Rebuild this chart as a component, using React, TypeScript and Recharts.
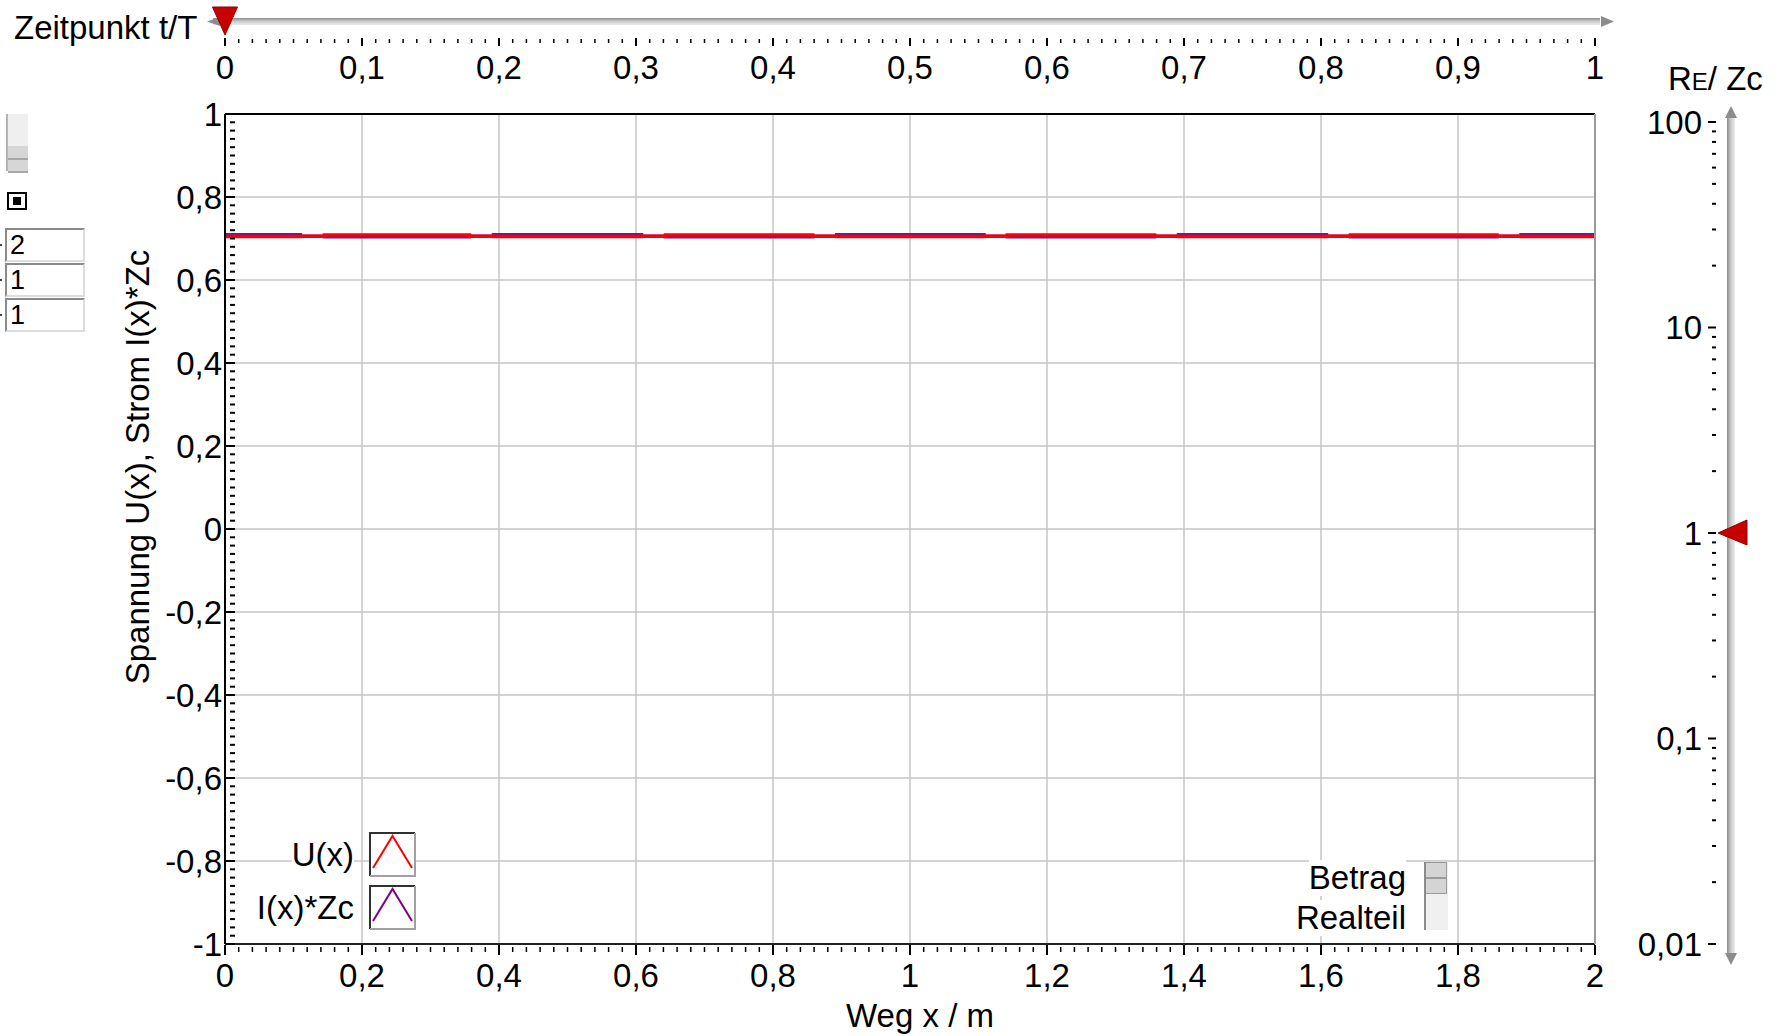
import { LineChart, Line, XAxis, YAxis, CartesianGrid, Legend } from "recharts";

// Weg x / m an den Stufen der Kurven, dazu Betrag von U(x) und I(x)*Zc bei t/T = 0
const wegX = [0, 0.11, 0.145, 0.357, 0.392, 0.608, 0.643, 0.858, 0.893, 1.108, 1.142, 1.357, 1.392, 1.608, 1.643, 1.857, 1.892, 2];
const spannungU = [0.705, 0.7055, 0.7085, 0.7055, 0.705, 0.7055, 0.7085, 0.7055, 0.705, 0.7055, 0.7085, 0.7055, 0.705, 0.7055, 0.7085, 0.7055, 0.705, 0.705];
const stromIZc = [0.709, 0.7055, 0.7045, 0.7055, 0.709, 0.7055, 0.7045, 0.7055, 0.709, 0.7055, 0.7045, 0.7055, 0.709, 0.7055, 0.7045, 0.7055, 0.709, 0.709];

// beschriftete Achsenwerte
const xLabels = [0, 0.2, 0.4, 0.6, 0.8, 1, 1.2, 1.4, 1.6, 1.8, 2];
const yLabels = [-1, -0.8, -0.6, -0.4, -0.2, 0, 0.2, 0.4, 0.6, 0.8, 1];
const tLabels = [0, 0.1, 0.2, 0.3, 0.4, 0.5, 0.6, 0.7, 0.8, 0.9, 1];
const reLabels = [0.01, 0.1, 1, 10, 100];

// Stellung der Schieberegler und Eingabefelder
const zeitpunkt = 0;
const reZc = 1;
const eingaben = ["2", "1", "1"];
const darstellung = ["Betrag", "Realteil"];

const series = [
  { key: "u", name: "U(x)", color: "#ff0000", icon: "#ff0000" },
  { key: "i", name: "I(x)*Zc", color: "#6a1a9a", icon: "#800080" },
];

const FONT = '"Liberation Sans", Arial, Helvetica, sans-serif';

// Zwischenstriche
const steps = (a: number, b: number, n: number) =>
  Array.from({ length: n + 1 }, (_, k) => +(a + ((b - a) * k) / n).toFixed(4));
const xTicks = steps(0, 2, 100);
const yTicks = steps(-1, 1, 100);
const tTicks = steps(0, 1, 100);
const reTicks = [0.01, 0.1, 1, 10]
  .flatMap((d) => [1, 2, 3, 4, 5, 6, 7, 8, 9].map((m) => +(d * m).toPrecision(3)))
  .concat([100]);

const data = wegX.map((x, k) => ({ x, u: spannungU[k], i: stromIZc[k] }));

const isOn = (list: number[], v: number) => list.some((m) => Math.abs(m - v) < 1e-9);
const fmt = (v: number) => String(+v.toPrecision(6)).replace(".", ",");

const txt = { fontFamily: FONT, fontSize: 33, fill: "#000" };

function BottomTick({ x, y, payload }: any) {
  const major = isOn(xLabels, payload.value);
  return (
    <g>
      <line x1={x} x2={x} y1={y + (major ? 1 : 3)} y2={y + (major ? 11 : 8)} stroke="#000" strokeWidth={major ? 2 : 1.5} />
      {major && (
        <text x={x} y={y + 31} textAnchor="middle" dominantBaseline="central" {...txt}>
          {fmt(payload.value)}
        </text>
      )}
    </g>
  );
}

function LeftTick({ x, y, payload }: any) {
  const major = isOn(yLabels, payload.value);
  return (
    <g>
      <line x1={x + (major ? 1 : 5)} x2={x + 10} y1={y} y2={y} stroke="#000" strokeWidth={2} />
      {major && (
        <text x={x - 3} y={y} textAnchor="end" dominantBaseline="central" {...txt}>
          {fmt(payload.value)}
        </text>
      )}
    </g>
  );
}

function TopTick({ x, y, payload }: any) {
  const major = isOn(tLabels, payload.value);
  return (
    <g>
      <line x1={x} x2={x} y1={y - (major ? 76 : 75)} y2={y - (major ? 68 : 71)} stroke="#000" strokeWidth={major ? 2 : 1.5} />
      {major && (
        <text x={x} y={y - 47} textAnchor="middle" dominantBaseline="central" {...txt}>
          {fmt(payload.value)}
        </text>
      )}
      {Math.abs(payload.value - zeitpunkt) < 1e-9 && (
        <polygon
          points={`${x - 12.5},${y - 107} ${x + 12.5},${y - 107} ${x},${y - 79}`}
          fill="#c80000"
          stroke="#900000"
          strokeWidth={1}
        />
      )}
    </g>
  );
}

function RightTick({ x, y, payload }: any) {
  const major = isOn(reLabels, payload.value);
  return (
    <g>
      <line x1={x + (major ? 113 : 117)} x2={x + 121} y1={y} y2={y} stroke="#000" strokeWidth={2} />
      {major && (
        <text x={x + 107} y={y} textAnchor="end" dominantBaseline="central" {...txt}>
          {fmt(payload.value)}
        </text>
      )}
      {Math.abs(payload.value - reZc) < 1e-9 && (
        <polygon
          points={`${x + 123},${y} ${x + 152},${y - 13} ${x + 152},${y + 12}`}
          fill="#c80000"
          stroke="#900000"
          strokeWidth={1}
        />
      )}
    </g>
  );
}

function YTitle({ viewBox }: any) {
  const cx = viewBox.x + 137;
  const cy = viewBox.y + viewBox.height / 2 - 62;
  return (
    <text x={cx} y={cy} textAnchor="middle" dominantBaseline="central" transform={`rotate(-90 ${cx} ${cy})`} {...txt}>
      Spannung U(x), Strom I(x)*Zc
    </text>
  );
}

function XTitle({ viewBox }: any) {
  return (
    <text x={viewBox.x + viewBox.width / 2 + 10} y={viewBox.y + 83} textAnchor="middle" {...txt}>
      Weg x / m
    </text>
  );
}

function ReTitle({ viewBox }: any) {
  return (
    <text x={viewBox.x + 73} y={viewBox.y - 24} {...txt}>
      R<tspan fontSize={24}>E</tspan>/ Zc
    </text>
  );
}

function renderLegend() {
  return (
    <div style={{ display: "flex", flexDirection: "column", gap: 8, fontFamily: FONT, fontSize: 33 }}>
      {series.map((s) => (
        <div key={s.key} style={{ display: "flex", alignItems: "center", height: 45 }}>
          <span style={{ width: 150, textAlign: "right", lineHeight: "36px", color: "#000" }}>
            <span style={{ background: "#fff" }}>{s.name}</span>
          </span>
          <span style={{ width: 15 }} />
          <svg width={47} height={45} style={{ background: "#fff", display: "block" }}>
            <polyline points="1,44 1,1 46,1" fill="none" stroke="#303030" strokeWidth={2} />
            <polyline points="46,1 46,44 1,44" fill="none" stroke="#a0a0a0" strokeWidth={2} />
            <polyline points="4,36 23.5,4 43,36" fill="none" stroke={s.icon} strokeWidth={2} />
          </svg>
        </div>
      ))}
    </div>
  );
}

function Regler() {
  return (
    <svg width={1786} height={1036} style={{ position: "absolute", left: 0, top: 0 }}>
      <defs>
        <linearGradient id="trackH" x1="0" y1="0" x2="0" y2="1">
          <stop offset="0%" stopColor="#8c8c8c" />
          <stop offset="45%" stopColor="#c8c8c8" />
          <stop offset="100%" stopColor="#ececec" />
        </linearGradient>
        <linearGradient id="trackV" x1="0" y1="0" x2="1" y2="0">
          <stop offset="0%" stopColor="#8c8c8c" />
          <stop offset="45%" stopColor="#c8c8c8" />
          <stop offset="100%" stopColor="#ececec" />
        </linearGradient>
      </defs>
      <rect x={213} y={18} width={1387} height={7} fill="url(#trackH)" />
      <polygon points="220,17 207,21.5 220,26" fill="#8c8c8c" />
      <polygon points="1601,16 1614,21.5 1601,27" fill="#8c8c8c" />
      <rect x={1727} y={117} width={8} height={837} fill="url(#trackV)" />
      <polygon points="1725,118 1731,106 1737,118" fill="#8c8c8c" />
      <polygon points="1725,953 1731,965 1737,953" fill="#8c8c8c" />
    </svg>
  );
}

function Bedienfeld() {
  const inputBox = (top: number, v: string) => (
    <div
      key={top}
      style={{
        position: "absolute",
        left: 5,
        top,
        width: 73,
        height: 30,
        borderTop: "2px solid #8a8a8a",
        borderLeft: "2px solid #8a8a8a",
        borderRight: "2px solid #dcdcdc",
        borderBottom: "2px solid #dcdcdc",
        background: "#fff",
        fontSize: 27,
        lineHeight: "30px",
        paddingLeft: 3,
        boxSizing: "content-box",
      }}
    >
      {v}
    </div>
  );
  return (
    <div style={{ position: "absolute", left: 0, top: 0, width: 1786, height: 1036, fontFamily: FONT, color: "#000", pointerEvents: "none" }}>
      <div style={{ position: "absolute", left: 14, top: 10, fontSize: 33, lineHeight: "36px" }}>Zeitpunkt t/T</div>

      <div style={{ position: "absolute", left: 6, top: 114, width: 22, height: 57, background: "#efefef", borderLeft: "2px solid #b4b4b4", boxSizing: "border-box" }}>
        <div style={{ position: "absolute", left: 0, top: 32, width: 20, height: 12, background: "#d6d6d6", borderBottom: "2px solid #a8a8a8" }} />
        <div style={{ position: "absolute", left: 0, top: 46, width: 20, height: 11, background: "#d6d6d6", borderBottom: "2px solid #a8a8a8" }} />
      </div>

      <div style={{ position: "absolute", left: 7, top: 192, width: 16, height: 14, border: "2px solid #000", background: "#fff" }}>
        <div style={{ position: "absolute", left: 4, top: 3, width: 8, height: 8, background: "#000" }} />
      </div>

      {eingaben.map((v, k) => inputBox(228 + k * 35, v))}
      {eingaben.map((_, k) => (
        <div key={"d" + k} style={{ position: "absolute", left: 0, top: 244 + k * 35, width: 2, height: 2, background: "#444" }} />
      ))}

      <div style={{ position: "absolute", left: 1280, top: 860, width: 126, textAlign: "right", fontSize: 33, lineHeight: "36px" }}>
        <div style={{ display: "inline-block", background: "#fff" }}>{darstellung[0]}</div>
        <br />
        <div style={{ display: "inline-block", background: "#fff", marginTop: 4 }}>{darstellung[1]}</div>
      </div>
      <div style={{ position: "absolute", left: 1424, top: 862, width: 24, height: 68, background: "#f0f0f0", borderLeft: "2px solid #8c8c8c", boxSizing: "border-box" }}>
        <div style={{ position: "absolute", left: 0, top: 0, width: 20, height: 14, background: "#d4d4d4", border: "1px solid #9a9a9a", borderLeft: "none" }} />
        <div style={{ position: "absolute", left: 0, top: 16, width: 20, height: 14, background: "#d4d4d4", border: "1px solid #9a9a9a", borderLeft: "none" }} />
      </div>
    </div>
  );
}

export default function App() {
  return (
    <div style={{ position: "absolute", left: 0, top: 0, width: 1786, height: 1036, background: "#fff" }}>
      <Regler />
      <div style={{ position: "absolute", left: 0, top: 0 }}>
        <LineChart width={1786} height={1036} data={data} margin={{ top: 0, right: 0, bottom: 0, left: 0 }}>
          <CartesianGrid
            xAxisId="x"
            yAxisId="u"
            verticalValues={xLabels}
            horizontalValues={yLabels}
            stroke="#c6c6c6"
            strokeWidth={1.5}
          />
          <XAxis
            xAxisId="t"
            dataKey="t"
            orientation="top"
            type="number"
            domain={[0, 1]}
            ticks={tTicks}
            interval={0}
            height={114}
            tickSize={0}
            tickMargin={0}
            tickLine={false}
            tick={<TopTick />}
            axisLine={{ stroke: "#000", strokeWidth: 2 }}
            allowDataOverflow
          />
          <XAxis
            xAxisId="x"
            dataKey="x"
            type="number"
            domain={[0, 2]}
            ticks={xTicks}
            interval={0}
            height={92}
            tickSize={0}
            tickMargin={0}
            tickLine={false}
            tick={<BottomTick />}
            axisLine={{ stroke: "#222", strokeWidth: 2 }}
            label={<XTitle />}
          />
          <YAxis
            yAxisId="u"
            type="number"
            domain={[-1, 1]}
            ticks={yTicks}
            interval={0}
            width={225}
            tickSize={0}
            tickMargin={0}
            tickLine={false}
            tick={<LeftTick />}
            axisLine={{ stroke: "#000", strokeWidth: 2 }}
            label={<YTitle />}
          />
          <YAxis
            yAxisId="re"
            orientation="right"
            type="number"
            scale="log"
            domain={[0.01, 100]}
            ticks={reTicks}
            interval={0}
            width={191}
            padding={{ top: 8, bottom: 0 }}
            tickSize={0}
            tickMargin={0}
            tickLine={false}
            tick={<RightTick />}
            axisLine={{ stroke: "#9a9a9a", strokeWidth: 2 }}
            label={<ReTitle />}
            allowDataOverflow
          />
          <Legend
            layout="vertical"
            align="center"
            verticalAlign="middle"
            content={renderLegend}
            wrapperStyle={{ left: 204, top: 832, width: 230 }}
          />
          {[...series].reverse().map((s) => (
            <Line
              key={s.key}
              xAxisId="x"
              yAxisId="u"
              type="stepAfter"
              dataKey={s.key}
              name={s.name}
              stroke={s.color}
              strokeWidth={3.5}
              dot={false}
              activeDot={false}
              isAnimationActive={false}
            />
          ))}
        </LineChart>
      </div>
      <Bedienfeld />
    </div>
  );
}
